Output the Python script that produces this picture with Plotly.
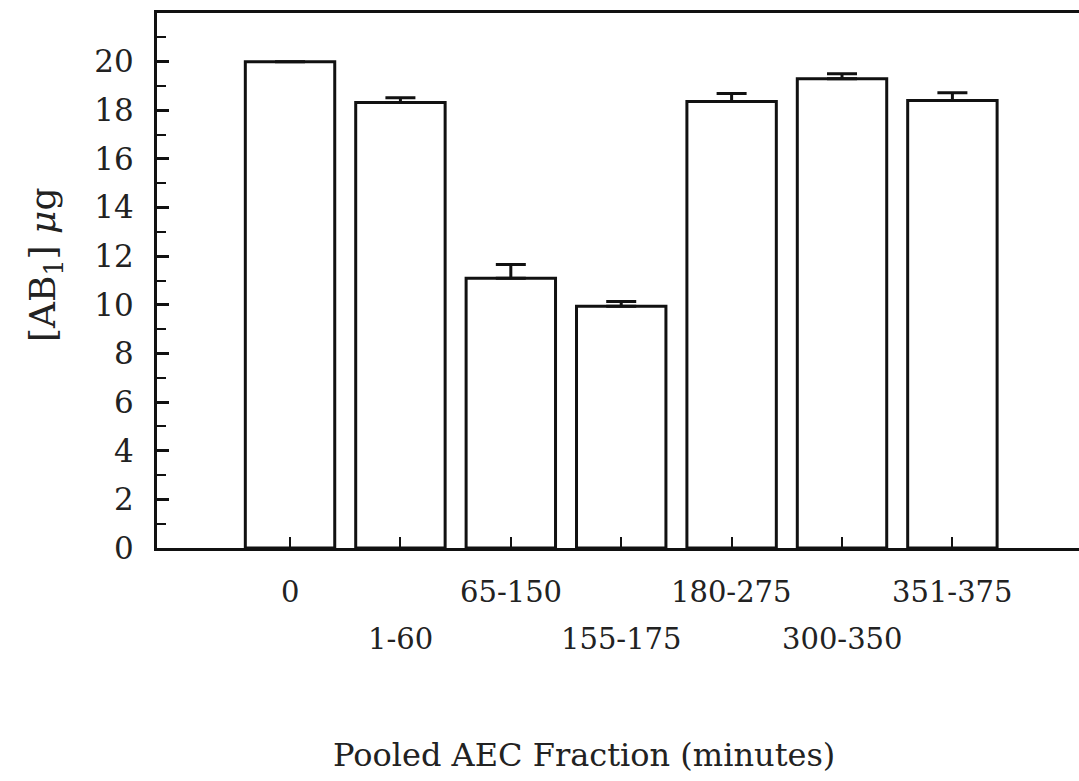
import plotly.graph_objects as go

categories = ["0", "1-60", "65-150", "155-175", "180-275", "300-350", "351-375"]
values = [20.0, 18.32, 11.09, 9.94, 18.36, 19.30, 18.40]
errors = [0.0, 0.20, 0.57, 0.20, 0.33, 0.20, 0.32]
y_tick_vals = [0, 2, 4, 6, 8, 10, 12, 14, 16, 18, 20]

FONT = "DejaVu Serif"
W, H = 1079, 781
L, T, B = 157, 13, 233
plot_h = H - T - B
plot_w = W - L

xpos = list(range(len(categories)))

fig = go.Figure()
fig.add_trace(go.Bar(
    x=xpos, y=values,
    marker=dict(color="white", line=dict(color="#111", width=3)),
    error_y=dict(type="data", array=errors, arrayminus=[0] * len(errors),
                 symmetric=False, color="#111", thickness=3, width=15),
    width=0.81,
    showlegend=False,
))

def py(px):
    return (T + plot_h - px) / plot_h

annotations = []
for i, lab in enumerate(categories):
    yrow = py(592) if i % 2 == 0 else py(639)
    annotations.append(dict(x=i, y=yrow, xref="x", yref="paper", text=lab,
                            showarrow=False, xanchor="center", yanchor="middle",
                            font=dict(family=FONT, size=29, color="#222")))
annotations.append(dict(x=(584 - L) / plot_w, y=py(755), xref="paper", yref="paper",
                        text="Pooled AEC Fraction (minutes)", showarrow=False,
                        xanchor="center", yanchor="middle",
                        font=dict(family=FONT, size=32, color="#222")))
annotations.append(dict(x=(45 - L) / plot_w, y=py(265), xref="paper", yref="paper",
                        text="[AB<sub>1</sub>] <i>μ</i>g", showarrow=False, textangle=-90,
                        xanchor="center", yanchor="middle",
                        font=dict(family=FONT, size=36, color="#222")))

fig.update_layout(
    width=W, height=H,
    margin=dict(l=L, r=0, t=T, b=B),
    paper_bgcolor="white", plot_bgcolor="white",
    annotations=annotations,
    bargap=0.19,
)
fig.update_xaxes(
    range=[-1.205, (W - 290) / 110.4],
    tickvals=xpos, showticklabels=False,
    ticks="inside", ticklen=11, tickwidth=2, tickcolor="#111",
    showline=True, linecolor="#111", linewidth=3, mirror=True,
    showgrid=False, zeroline=False,
)
fig.update_yaxes(
    range=[0, 22],
    tickvals=y_tick_vals, ticktext=[str(v) for v in y_tick_vals],
    ticks="inside", ticklen=12, tickwidth=2.5, tickcolor="#111",
    minor=dict(tickvals=[v for v in range(1, 22, 2)], ticks="inside", ticklen=9,
               tickwidth=1.5, tickcolor="#111"),
    showline=True, linecolor="#111", linewidth=3, mirror=False,
    showgrid=False, zeroline=False,
    tickfont=dict(family=FONT, size=31, color="#222"),
    ticklabelstandoff=14,
)

fig.write_html("out.html")
